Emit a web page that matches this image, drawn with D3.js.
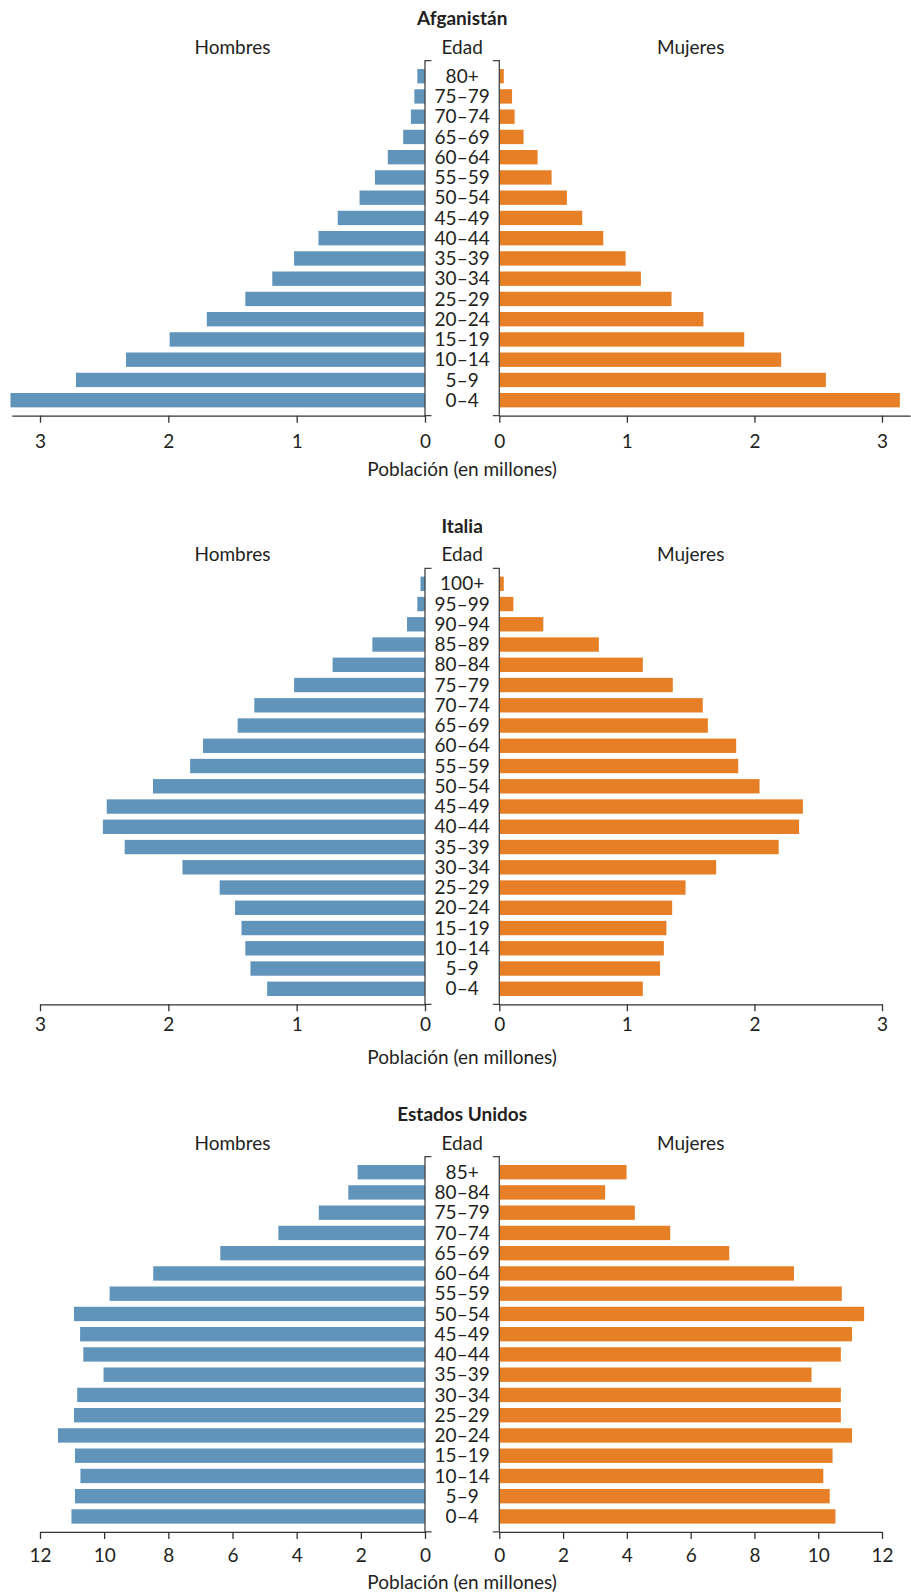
<!DOCTYPE html>
<html>
<head>
<meta charset="utf-8">
<script src="https://cdn.jsdelivr.net/npm/d3@7"></script>
<style>
  html, body { margin: 0; padding: 0; background: #ffffff; }
  svg { display: block; }
  text { font-family: Lato, "Open Sans", sans-serif; fill: #231f20; }
</style>
</head>
<body>
<svg id="chart" width="911" height="1593"></svg>
<script>
// ---------- data ----------
const afgTitle = "Afganistán";
const afgAges = ["80+","75–79","70–74","65–69","60–64","55–59","50–54","45–49","40–44","35–39","30–34","25–29","20–24","15–19","10–14","5–9","0–4"];
const afgMen   = [0.06,0.083,0.11,0.17,0.29,0.39,0.51,0.68,0.83,1.02,1.19,1.40,1.70,1.99,2.33,2.72,3.23];
const afgWomen = [0.035,0.10,0.12,0.19,0.30,0.41,0.53,0.65,0.815,0.99,1.11,1.35,1.60,1.92,2.21,2.56,3.14];
const afgTicks = [0,1,2,3];

const itaTitle = "Italia";
const itaAges = ["100+","95–99","90–94","85–89","80–84","75–79","70–74","65–69","60–64","55–59","50–54","45–49","40–44","35–39","30–34","25–29","20–24","15–19","10–14","5–9","0–4"];
const itaMen   = [0.035,0.06,0.14,0.41,0.72,1.02,1.33,1.46,1.73,1.83,2.12,2.48,2.51,2.34,1.89,1.60,1.48,1.43,1.40,1.36,1.23];
const itaWomen = [0.035,0.11,0.345,0.78,1.125,1.36,1.595,1.635,1.857,1.873,2.04,2.38,2.35,2.19,1.70,1.46,1.355,1.31,1.29,1.26,1.125];
const itaTicks = [0,1,2,3];

const usaTitle = "Estados Unidos";
const usaAges = ["85+","80–84","75–79","70–74","65–69","60–64","55–59","50–54","45–49","40–44","35–39","30–34","25–29","20–24","15–19","10–14","5–9","0–4"];
const usaMen   = [2.10,2.39,3.31,4.57,6.38,8.47,9.83,10.94,10.75,10.65,10.02,10.84,10.94,11.44,10.91,10.74,10.91,11.02];
const usaWomen = [3.99,3.32,4.25,5.36,7.21,9.24,10.74,11.44,11.06,10.71,9.79,10.71,10.71,11.06,10.45,10.16,10.36,10.54];
const usaTicks = [0,2,4,6,8,10,12];

const labelMen = "Hombres", labelAge = "Edad", labelWomen = "Mujeres";
const axisTitle = "Población (en millones)";

// ---------- layout ----------
const leftZero = 425, leftEnd = 40;
const rightZero = 499.3, rightEnd = 882;
const centerX = (leftZero + rightZero) / 2;
const step = 20.25;
const colMen = "#6094bb", colWomen = "#e67f25";
const fs = 19;

const svg = d3.select("#chart");

function panel(cfg) {
  const g = svg.append("g");
  const n = cfg.ages.length;
  const top = cfg.top;
  const axisY = top + step * (n - 0.29 + 2 * 0.41);

  const y = d3.scaleBand().domain(cfg.ages).range([top, axisY])
    .paddingInner(0.29).paddingOuter(0.41);

  const lastTick = cfg.ticks[cfg.ticks.length - 1];
  const dm = cfg.domainMax || lastTick;
  const xL = d3.scaleLinear().domain([0, dm])
    .range([leftZero, leftZero - (leftZero - leftEnd) * dm / lastTick]);
  const xR = d3.scaleLinear().domain([0, dm])
    .range([rightZero, rightZero + (rightEnd - rightZero) * dm / lastTick]);

  g.append("text").attr("x", centerX).attr("y", top - 42).attr("dy", "0.35em")
    .attr("text-anchor", "middle").attr("font-weight", 700).attr("font-size", fs)
    .text(cfg.title);
  g.append("text").attr("x", (leftZero + leftEnd) / 2).attr("y", top - 13.5).attr("dy", "0.35em")
    .attr("text-anchor", "middle").attr("font-size", fs).text(labelMen);
  g.append("text").attr("x", centerX).attr("y", top - 13.5).attr("dy", "0.35em")
    .attr("text-anchor", "middle").attr("font-size", fs).text(labelAge);
  g.append("text").attr("x", (rightZero + rightEnd) / 2).attr("y", top - 13.5).attr("dy", "0.35em")
    .attr("text-anchor", "middle").attr("font-size", fs).text(labelWomen);

  g.append("g").selectAll("rect").data(cfg.men).join("rect")
    .attr("x", d => xL(d)).attr("width", d => leftZero - xL(d))
    .attr("y", (d, i) => y(cfg.ages[i])).attr("height", y.bandwidth())
    .attr("fill", colMen);
  g.append("g").selectAll("rect").data(cfg.women).join("rect")
    .attr("x", rightZero).attr("width", d => xR(d) - rightZero)
    .attr("y", (d, i) => y(cfg.ages[i])).attr("height", y.bandwidth())
    .attr("fill", colWomen);

  g.append("g").selectAll("text").data(cfg.ages).join("text")
    .attr("x", centerX).attr("y", d => y(d) + y.bandwidth() / 2).attr("dy", "0.35em")
    .attr("text-anchor", "middle").attr("font-size", fs).text(d => d);

  const bt = 6.5;
  g.append("path")
    .attr("d", `M${leftZero + bt},${top}H${leftZero}V${axisY}H${leftZero + bt}`)
    .attr("fill", "none").attr("stroke", "#444").attr("stroke-width", 1.3);
  g.append("path")
    .attr("d", `M${rightZero - bt},${top}H${rightZero}V${axisY}H${rightZero - bt}`)
    .attr("fill", "none").attr("stroke", "#444").attr("stroke-width", 1.3);

  function styleAxis(sel) {
    sel.select(".domain").attr("stroke", "#333").attr("stroke-width", 1.3);
    sel.selectAll(".tick line").attr("stroke", "#333").attr("stroke-width", 1.3);
    sel.selectAll(".tick text").attr("font-size", fs).attr("fill", "#231f20")
      .attr("font-family", "Lato, 'Open Sans', sans-serif");
  }
  g.append("g").attr("transform", `translate(0,${axisY})`)
    .call(d3.axisBottom(xL).tickValues(cfg.ticks).tickSizeInner(7).tickSizeOuter(0).tickPadding(cfg.pad).tickFormat(d3.format("d")))
    .call(styleAxis);
  g.append("g").attr("transform", `translate(0,${axisY})`)
    .call(d3.axisBottom(xR).tickValues(cfg.ticks).tickSizeInner(7).tickSizeOuter(0).tickPadding(cfg.pad).tickFormat(d3.format("d")))
    .call(styleAxis);

  g.append("text").attr("x", centerX).attr("y", axisY + cfg.titleOff).attr("dy", "0.35em")
    .attr("text-anchor", "middle").attr("font-size", fs).text(axisTitle);
}

panel({title: afgTitle, ages: afgAges, men: afgMen, women: afgWomen, ticks: afgTicks, domainMax: 3.22, top: 60.7, pad: 12, titleOff: 54});
panel({title: itaTitle, ages: itaAges, men: itaMen, women: itaWomen, ticks: itaTicks, top: 568.3, pad: 6, titleOff: 53});
panel({title: usaTitle, ages: usaAges, men: usaMen, women: usaWomen, ticks: usaTicks, top: 1156.7, pad: 10, titleOff: 50});
</script>
</body>
</html>
